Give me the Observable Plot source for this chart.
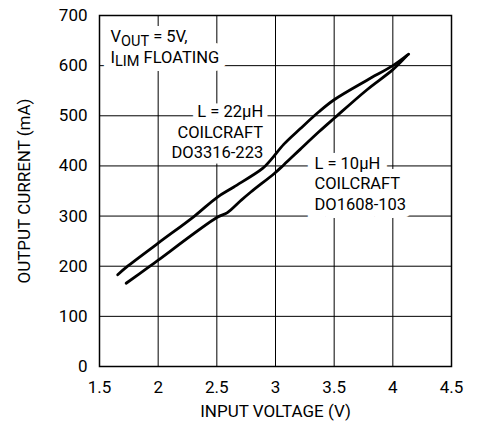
<!DOCTYPE html>
<html><head><meta charset="utf-8">
<script src="https://cdn.jsdelivr.net/npm/d3@7"></script>
<script src="https://cdn.jsdelivr.net/npm/@observablehq/plot@0.6"></script>
<style>
html,body{margin:0;padding:0;background:#fff;}
</style></head>
<body><div id="chart"></div>
<script>
// L = 22µH COILCRAFT DO3316-223
const voltage22 = [1.655, 1.74, 2.0, 2.31, 2.5, 2.645, 2.89, 2.96, 3.07, 3.21, 3.37, 3.5, 3.78, 4.0, 4.135];
const current22 = [183, 200, 246, 300, 337, 358, 395, 412, 443, 474, 508, 532, 571, 600, 623];
// L = 10µH COILCRAFT DO1608-103
const voltage10 = [1.727, 1.93, 2.0, 2.5, 2.59, 2.70, 2.79, 2.99, 3.07, 3.21, 3.37, 3.5, 3.78, 4.0, 4.12];
const current10 = [166, 200, 212, 297, 307, 330, 348, 385, 402, 433, 468, 495, 552, 592, 620];

const xTicks = [1.5, 2, 2.5, 3, 3.5, 4, 4.5];
const yTicks = [0, 100, 200, 300, 400, 500, 600, 700];

// annotations
const noteText = ["VOUT = 5V,\nILIM FLOATING", "L = 22µH\nCOILCRAFT\nDO3316-223", "L = 10µH\nCOILCRAFT\nDO1608-103"];
const noteX = [1.594, 2.895, 3.332];
const noteY = [676, 526, 423];
const noteAnchor = ["start", "end", "start"];

const s22 = voltage22.map((v, i) => ({v, i: current22[i]}));
const s10 = voltage10.map((v, i) => ({v, i: current10[i]}));
const notes = noteText.map((t, k) => ({t, x: noteX[k], y: noteY[k], a: noteAnchor[k]}));

const font = "Roboto, 'Liberation Sans', sans-serif";

function noteMarks(anchor, halo) {
  const opts = {x: "x", y: "y", text: "t", textAnchor: anchor, lineAnchor: "top", lineHeight: 1.24, fontSize: 16.5};
  return Plot.text(notes.filter(d => d.a === anchor), halo
    ? {...opts, fill: "#fff", stroke: "#fff", strokeWidth: halo, strokeLinejoin: "miter"}
    : {...opts, fill: "#000"});
}

const chart = Plot.plot({
  width: 479, height: 423,
  marginLeft: 99, marginRight: 28, marginTop: 15, marginBottom: 57,
  style: {fontFamily: font, fontSize: "17px", color: "#000", background: "#fff", overflow: "visible"},
  x: {domain: [1.5, 4.5]},
  y: {domain: [0, 700]},
  marks: [
    Plot.gridX(xTicks, {stroke: "#000", strokeOpacity: 1, strokeWidth: 1}),
    Plot.gridY(yTicks, {stroke: "#000", strokeOpacity: 1, strokeWidth: 1}),
    noteMarks("start", 16),
    noteMarks("end", 11),
    noteMarks("start", 0),
    noteMarks("end", 0),
    Plot.line(s22, {x: "v", y: "i", stroke: "#000", strokeWidth: 2.8, curve: "catmull-rom"}),
    Plot.line(s10, {x: "v", y: "i", stroke: "#000", strokeWidth: 2.8, curve: "catmull-rom"}),
    Plot.frame({stroke: "#000", strokeWidth: 1.5}),
    Plot.axisX(xTicks, {tickSize: 0, tickPadding: 14, fontSize: 17, tickFormat: d => String(d), label: "INPUT VOLTAGE (V)", labelAnchor: "center", labelArrow: "none", labelOffset: 50}),
    Plot.axisY(yTicks, {tickSize: 0, tickPadding: 12, fontSize: 17, label: "OUTPUT CURRENT (mA)", labelAnchor: "center", labelArrow: "none", labelOffset: 82})
  ]
});

// subscripts in the top-left note
chart.querySelectorAll("tspan").forEach(ts => {
  const txt = ts.textContent;
  const m = txt.match(/^(V|I)(OUT|LIM)(.*)$/);
  if (!m) return;
  ts.textContent = m[1];
  const sub = document.createElementNS("http://www.w3.org/2000/svg", "tspan");
  sub.setAttribute("dy", "3.5");
  sub.setAttribute("font-size", "0.88em");
  sub.textContent = m[2];
  const rest = document.createElementNS("http://www.w3.org/2000/svg", "tspan");
  rest.setAttribute("dy", "-3.5");
  rest.textContent = m[3];
  ts.appendChild(sub);
  ts.appendChild(rest);
});

document.getElementById("chart").appendChild(chart);
</script>
</body></html>
